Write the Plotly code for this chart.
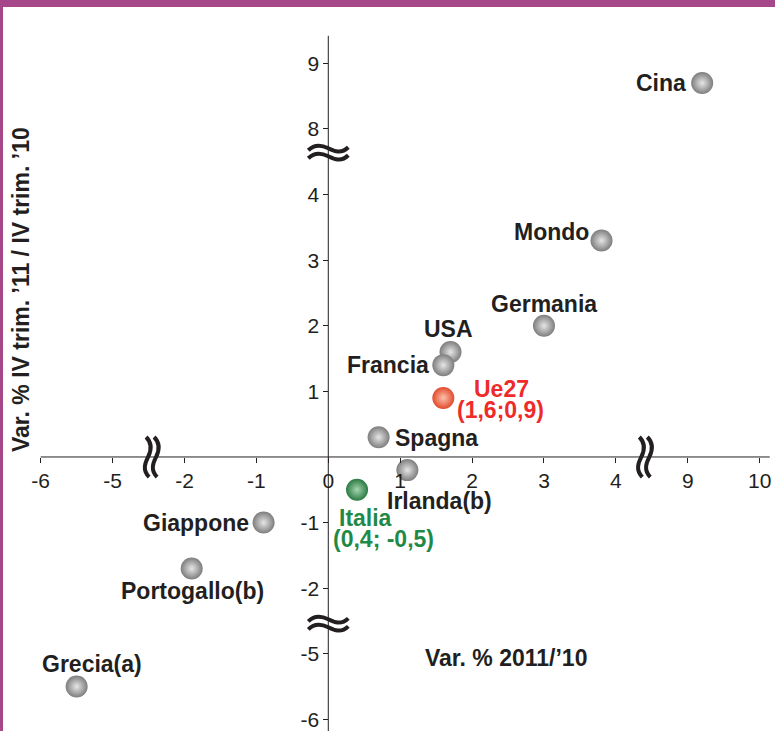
import plotly.graph_objects as go

# ---------------- data ----------------
countries = ["Cina", "Mondo", "Germania", "USA", "Francia", "Ue27", "Spagna",
             "Irlanda(b)", "Italia", "Giappone", "Portogallo(b)", "Grecia(a)"]
var_2011 = [9.2, 3.8, 3.0, 1.7, 1.6, 1.6, 0.7, 1.1, 0.4, -0.9, -1.9, -5.5]
var_q4 = [8.7, 3.3, 2.0, 1.6, 1.4, 0.9, 0.3, -0.2, -0.5, -1.0, -1.7, -5.5]
x_tick_labels = [-6, -5, -2, -1, 0, 1, 2, 3, 4, 9, 10]
y_tick_labels = [-6, -5, -2, -1, 1, 2, 3, 4, 8, 9]

# ---------------- broken-axis mapping ----------------
def bx(v):
    if v <= -5:
        return v + 2
    if v >= 9:
        return v - 4
    return v

def by(v):
    if v <= -5:
        return v + 2
    if v >= 8:
        return v - 3
    return v

X_RANGE = [-4.566, 6.213]
Y_RANGE = [-4.177, 6.966]

TXT = "#231f20"
FONT = "Liberation Sans, Arial, sans-serif"
GRAY, GRAY_C = "#7d7d7d", "#e6e6e6"
RED, RED_C = "#e24a2c", "#fbc2ad"
GREEN, GREEN_C = "#2a7a42", "#a6d6b0"
LBL = 23

special = {"Ue27": (RED, RED_C), "Italia": (GREEN, GREEN_C)}
colors = [special.get(c, (GRAY, GRAY_C))[0] for c in countries]
centers = [special.get(c, (GRAY, GRAY_C))[1] for c in countries]

fig = go.Figure()
for c, xv, yv, col, cen in zip(countries, var_2011, var_q4, colors, centers):
    fig.add_trace(go.Scatter(
        x=[bx(xv)], y=[by(yv)], mode="markers", name=c, showlegend=False,
        marker=dict(size=22, color=col, line=dict(width=0),
                    gradient=dict(type="radial", color=cen)),
        hoverinfo="skip"))

# label placement (pixel offsets from the point); each entry = list of lines
label_cfg = {
    "Cina": [dict(xshift=-14, yshift=0, xanchor="right")],
    "Mondo": [dict(xshift=-11, yshift=9, xanchor="right")],
    "Germania": [dict(xshift=0, yshift=22, xanchor="center")],
    "USA": [dict(xshift=-2, yshift=23, xanchor="center")],
    "Francia": [dict(xshift=-12, yshift=0, xanchor="right")],
    "Ue27": [dict(xshift=58, yshift=9, xanchor="center"),
             dict(xshift=57, yshift=-12, xanchor="center")],
    "Spagna": [dict(xshift=14, yshift=-1, xanchor="left")],
    "Irlanda(b)": [dict(xshift=32, yshift=-31, xanchor="center")],
    "Italia": [dict(xshift=-20, yshift=-28, xanchor="left"),
               dict(xshift=-26, yshift=-49, xanchor="left")],
    "Giappone": [dict(xshift=-13, yshift=0, xanchor="right")],
    "Portogallo(b)": [dict(xshift=1, yshift=-22, xanchor="center")],
    "Grecia(a)": [dict(xshift=15, yshift=23, xanchor="center")],
}
label_text = {
    "Ue27": ["Ue27", "(1,6;0,9)"],
    "Italia": ["Italia", "(0,4; -0,5)"],
}
label_color = {"Ue27": "#ee2a2a", "Italia": "#1f8a47"}
for c, xv, yv in zip(countries, var_2011, var_q4):
    lines = label_text.get(c, [c])
    col = label_color.get(c, TXT)
    for line, cfg in zip(lines, label_cfg[c]):
        fig.add_annotation(x=bx(xv), y=by(yv), text=f"<b>{line}</b>", showarrow=False,
                           yanchor="middle", font=dict(family=FONT, size=LBL, color=col),
                           **cfg)

# axis titles
fig.add_annotation(xref="paper", yref="paper", x=506 / 775, y=1 - 658 / 731,
                   xanchor="center", yanchor="middle",
                   text="<b>Var. % 2011/’10</b>", showarrow=False,
                   font=dict(family=FONT, size=23, color=TXT))
fig.add_annotation(xref="paper", yref="paper", x=21 / 775, y=1 - 290 / 731,
                   xanchor="center", yanchor="middle",
                   text="<b>Var. % IV trim. ’11 / IV trim. ’10</b>", showarrow=False,
                   textangle=-90, font=dict(family=FONT, size=23, color=TXT))

# axis lines
fig.add_shape(type="line", x0=bx(-6), x1=6.14, y0=0, y1=0,
              line=dict(color=TXT, width=1))
fig.add_shape(type="line", x0=0, x1=0, y0=6.42, y1=Y_RANGE[0],
              line=dict(color=TXT, width=1))

# break marks
h_break = ("M -20,1 C -13,8 -6,6 0,3 C 6,0 13,-3 20,4 "
           "M -20,-7 C -13,0 -6,-2 0,-5 C 6,-8 13,-11 20,-4")
v_break = ("M -1,20 C 6,13 4,6 1,0 C -2,-6 -5,-13 2,-20 "
           "M 7,20 C 14,13 12,6 9,0 C 6,-6 3,-13 10,-20")
for yb in [4.66, -2.52]:
    fig.add_shape(type="path", xsizemode="pixel", ysizemode="pixel",
                  xanchor=0, yanchor=yb, path=h_break,
                  line=dict(color=TXT, width=4))
for xb in [-2.52, 4.34]:
    fig.add_shape(type="path", xsizemode="pixel", ysizemode="pixel",
                  xanchor=xb, yanchor=0, path=v_break,
                  line=dict(color=TXT, width=4))

# purple frame
PURPLE = "#a6478a"
fig.add_shape(type="rect", xref="paper", yref="paper", x0=0, x1=1,
              y0=1 - 7 / 731, y1=1, fillcolor=PURPLE, line=dict(width=0), layer="above")
fig.add_shape(type="rect", xref="paper", yref="paper", x0=0, x1=3 / 775,
              y0=0, y1=1, fillcolor=PURPLE, line=dict(width=0), layer="above")

xpos = (0 - Y_RANGE[0]) / (Y_RANGE[1] - Y_RANGE[0])
ypos = (0 - X_RANGE[0]) / (X_RANGE[1] - X_RANGE[0])

fig.update_layout(
    width=775, height=731,
    margin=dict(l=0, r=0, t=0, b=0),
    paper_bgcolor="white", plot_bgcolor="white",
    font=dict(family=FONT, color=TXT),
    xaxis=dict(range=X_RANGE, anchor="free", position=xpos,
               tickvals=[bx(t) for t in x_tick_labels],
               ticktext=[str(t) for t in x_tick_labels],
               ticks="outside", ticklen=5, tickcolor=TXT, tickwidth=1,
               showgrid=False, zeroline=False, showline=False,
               tickfont=dict(family=FONT, size=21, color=TXT)),
    yaxis=dict(range=Y_RANGE, anchor="free", position=ypos,
               tickvals=[by(t) for t in y_tick_labels],
               ticktext=[str(t) for t in y_tick_labels],
               ticks="outside", ticklen=5, tickcolor=TXT, tickwidth=1,
               showgrid=False, zeroline=False, showline=False,
               tickfont=dict(family=FONT, size=21, color=TXT)),
)

fig.write_html("out.html", config={"displayModeBar": False},
               post_script="document.body.style.margin='0';document.body.style.overflow='hidden';")
